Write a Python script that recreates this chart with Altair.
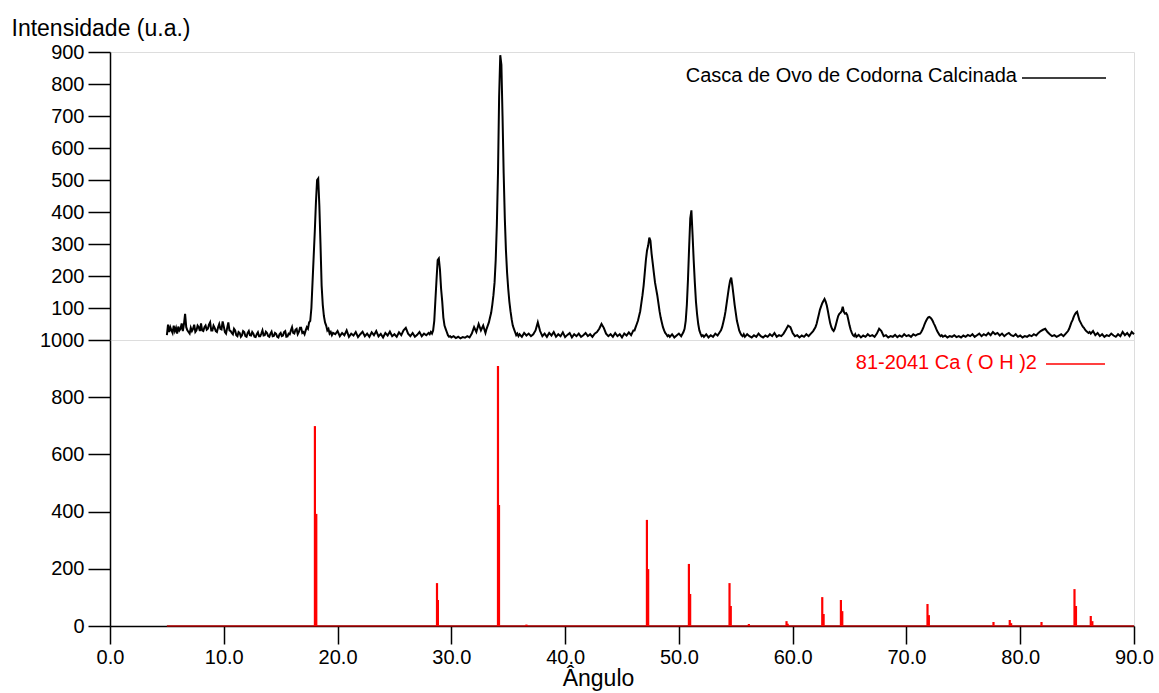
import altair as alt
import pandas as pd

# ---------------- experimental pattern (black), read from the picture ----------------
# each segment: start angle, step, intensities
seg_a = [15, 48, 25, 40, 30, 22, 45, 28, 38, 20,
         42, 30, 35, 52, 28, 50, 82, 40, 30, 25,
         20, 38, 28, 35, 48, 25, 30, 45, 40, 28,
         52, 30, 28, 40, 45, 32, 35, 48, 55, 30,
         30, 45, 38, 28, 25, 40, 50, 35, 33, 58,
         42, 25, 20, 38, 55, 30, 28, 22, 18, 35,
         30, 15, 12, 25, 22, 10, 15, 28, 25, 12,
         10, 22, 28, 15, 14, 25, 20, 10, 9, 18,
         24, 12, 12, 20, 30, 14, 15, 26, 22, 12,
         10, 20, 26, 12, 13, 22, 19, 10, 8, 18,
         22, 12, 14, 25, 28, 10, 11, 20, 18, 30,
         40, 22, 20, 32, 35, 18, 25, 38, 38, 22]
seg_b = [25, 18, 30, 40, 35, 55, 60, 100, 180, 260, 340, 430, 500, 505, 420, 300, 170, 110,
         75, 55, 45, 30, 35, 20, 25, 15, 22]
seg_c = [18, 28, 12, 22, 15, 30, 10, 20, 14, 25, 9, 18, 26, 12, 20, 10, 24, 15, 28, 11,
         19, 8, 22, 14, 26, 12, 18, 10, 24, 15, 30, 38, 20, 12, 22, 10, 16, 25, 12, 20,
         15, 22]
seg_d = [18, 25, 20, 30, 60, 125, 190, 250, 255, 220, 160, 120, 70, 45, 35, 25, 15, 10, 12]
seg_e = [8, 12, 6, 10, 5, 9, 7, 12, 8, 20, 40, 25, 50, 30, 45, 22]
seg_f = [35, 45, 55, 70, 85, 110, 140, 180, 250, 360, 520, 760, 890, 860, 700, 520, 380,
         280, 210, 160, 120, 90, 65, 45, 35, 25, 15, 20, 12]
seg_g = [18, 10, 22, 14, 20, 12, 18, 30, 55, 28, 12, 20, 10, 22, 14, 25, 10, 18, 12, 24,
         9, 16, 22, 8, 18, 12, 20, 10, 15, 22, 12, 18, 10, 20, 25, 35, 50, 38, 20, 12,
         18, 10, 22, 12, 18, 8, 20, 14, 24, 15, 30]
seg_h = [30, 40, 50, 60, 75, 90, 115, 140, 170, 210, 250, 280, 295, 320, 310, 270, 240,
         210, 180, 160, 140, 115, 90, 70, 55, 40, 30, 22, 18, 12, 15]
seg_i = [10, 18, 8, 14, 20, 12, 25]
seg_j = [35, 60, 110, 190, 290, 380, 405, 330, 250, 180, 120, 80, 50, 30, 20, 12, 15]
seg_k = [10, 18, 8, 15, 10, 20, 14, 25]
seg_l = [30, 40, 55, 70, 90, 115, 140, 165, 185, 195, 170, 140, 110, 85, 60, 45, 30, 22,
         15, 12, 18]
seg_m = [10, 18, 12, 8, 15, 10, 20, 12, 8, 14, 10, 18, 12, 22, 10, 15, 12, 20, 32, 45,
         40, 22, 12, 15, 8, 14, 10, 18, 12, 20, 28, 40]
seg_n = [50, 65, 80, 95, 105, 115, 122, 128, 120, 108, 90, 70, 52, 40, 32, 28, 35, 48,
         62, 75, 82, 85, 90, 104, 88, 82, 84, 78, 62, 45, 32, 22, 15, 12, 18]
seg_o = [10, 16, 8, 14, 10, 18, 12, 15, 10, 20, 35, 28, 12, 15, 8, 12, 10, 16, 9, 14,
         10, 18, 12, 15, 10, 18, 14, 18, 20]
seg_p = [25, 32, 40, 50, 58, 65, 70, 72, 70, 66, 60, 52, 45, 36, 28, 22, 16, 12, 15]
seg_q = [10, 14, 8, 12, 10, 15, 9, 12, 8, 14, 10, 16, 12, 18, 10, 15, 20, 12, 18, 14,
         22, 15, 25, 18, 22, 14, 20, 12, 18, 22, 15, 12, 18, 10, 14, 8, 12, 10, 15, 12,
         18, 14, 22, 28, 32, 35, 25, 18, 12, 15, 10, 14, 18, 12, 20, 28]
seg_r = [35, 45, 55, 62, 72, 80, 85, 88, 75, 62, 55, 48, 42, 38, 32, 28, 25, 22, 25]
seg_s = [20, 28, 15, 22, 12, 18, 10, 15, 12, 20, 14, 10, 18, 12, 25, 15, 22, 12, 25, 18]

segments = [
    (5.0, 0.1, seg_a), (17.0, 0.1, seg_b), (19.8, 0.2, seg_c), (28.1, 0.1, seg_d),
    (30.0, 0.2, seg_e), (33.1, 0.1, seg_f), (36.0, 0.2, seg_g), (46.1, 0.1, seg_h),
    (49.2, 0.2, seg_i), (50.5, 0.1, seg_j), (52.2, 0.2, seg_k), (53.7, 0.1, seg_l),
    (55.8, 0.2, seg_m), (62.1, 0.1, seg_n), (65.6, 0.2, seg_o), (71.3, 0.1, seg_p),
    (73.2, 0.2, seg_q), (84.3, 0.1, seg_r), (86.2, 0.2, seg_s),
]

# ---------------- reference pattern 81-2041 Ca(OH)2 (red sticks) ----------------
ref_angle = [18.01, 18.13, 28.74, 28.82, 34.10, 34.19, 36.60, 47.19, 47.30, 50.88, 50.99,
             54.45, 54.56, 56.15, 59.46, 59.56, 62.60, 62.72, 64.24, 64.36, 71.85, 71.97,
             77.65, 79.08, 79.20, 81.87, 84.77, 84.90, 86.20, 86.34]
ref_int = [699, 392, 150, 91, 909, 423, 5, 371, 199, 217, 112, 150, 70, 7, 17, 8, 101, 42,
           91, 52, 77, 38, 14, 21, 10, 14, 129, 70, 35, 17]

top_ticks = [100, 200, 300, 400, 500, 600, 700, 800, 900]
bottom_ticks = [0, 200, 400, 600, 800, 1000]
x_ticks = [0, 10, 20, 30, 40, 50, 60, 70, 80, 90]

legend_top = "Casca de Ovo de Codorna Calcinada"
legend_bottom = "81-2041 Ca ( O H )2"

rows = []
for start, step, vals in segments:
    for i, v in enumerate(vals):
        rows.append({"angle": round(start + step * i, 3), "intensity": v})
exp_df = pd.DataFrame(rows)
ref_df = pd.DataFrame({"angle": ref_angle, "intensity": ref_int, "base": [0] * len(ref_int)})

FONT = "Liberation Sans"
W = 1024
x_scale = alt.Scale(domain=[0, 90], nice=False, zero=False)

axis_common = dict(grid=False, domainColor="black", domainWidth=1.5, tickColor="black",
                   tickWidth=1.5, labelColor="black", labelFontSize=20, labelFont=FONT,
                   labelFlush=False)

top_line = alt.Chart(exp_df).mark_line(color="black", strokeWidth=2, interpolate="linear").encode(
    x=alt.X("angle:Q", scale=x_scale, axis=None),
    y=alt.Y("intensity:Q", scale=alt.Scale(domain=[0, 900], nice=False),
            axis=alt.Axis(values=top_ticks, format="d", tickSize=22, labelPadding=4,
                          title="Intensidade (u.a.)", titleAngle=0, titleAlign="left",
                          titleBaseline="middle", titleX=-99, titleY=-24, titleFontSize=23,
                          titleFontWeight="normal", titleFont=FONT, titleColor="black",
                          **axis_common)),
)
top_leg_text = alt.Chart(pd.DataFrame({"t": [legend_top]})).mark_text(
    align="right", baseline="middle", fontSize=20, font=FONT, color="black"
).encode(text="t:N", x=alt.value(907), y=alt.value(24))
top_leg_line = alt.Chart(pd.DataFrame({"t": [legend_top]})).mark_rule(
    color="black", strokeWidth=1.5
).encode(x=alt.value(912), x2=alt.value(996), y=alt.value(26))

top = alt.layer(top_line, top_leg_text, top_leg_line).properties(width=W, height=288)

base_df = pd.DataFrame({"a": [5.0], "b": [90.0], "y": [0]})
red_base = alt.Chart(base_df).mark_rule(color="#b00000", strokeWidth=1.5).encode(
    x=alt.X("a:Q", scale=x_scale), x2="b:Q", y=alt.Y("y:Q"))
sticks = alt.Chart(ref_df).mark_rule(color="#ff0000", strokeWidth=2.2).encode(
    x=alt.X("angle:Q", scale=x_scale,
            axis=alt.Axis(values=x_ticks, format=".1f", tickSize=18, labelPadding=3,
                          title="Ângulo", titleFontSize=23, titleFontWeight="normal",
                          titleFont=FONT, titleColor="black", titlePadding=0,
                          titleX=488, **axis_common)),
    y=alt.Y("base:Q", scale=alt.Scale(domain=[0, 1000], nice=False),
            axis=alt.Axis(values=bottom_ticks, format="d", tickSize=22, labelPadding=4,
                          title=None, **axis_common)),
    y2="intensity:Q",
)
bot_leg_text = alt.Chart(pd.DataFrame({"t": [legend_bottom]})).mark_text(
    align="right", baseline="middle", fontSize=20, font=FONT, color="#ff0000"
).encode(text="t:N", x=alt.value(927), y=alt.value(23))
bot_leg_line = alt.Chart(pd.DataFrame({"t": [legend_bottom]})).mark_rule(
    color="#ff0000", strokeWidth=1.5
).encode(x=alt.value(936), x2=alt.value(995), y=alt.value(24))

bottom = alt.layer(red_base, sticks, bot_leg_text, bot_leg_line).properties(width=W, height=286)

chart = alt.vconcat(top, bottom, spacing=0, bounds="flush").properties(
    padding={"left": 10, "top": 16, "right": 5, "bottom": 5},
    background="white",
).configure_view(stroke="black", strokeWidth=1.5).configure(font=FONT)

chart.save("out.html", embed_options={"renderer": "svg", "actions": False})
